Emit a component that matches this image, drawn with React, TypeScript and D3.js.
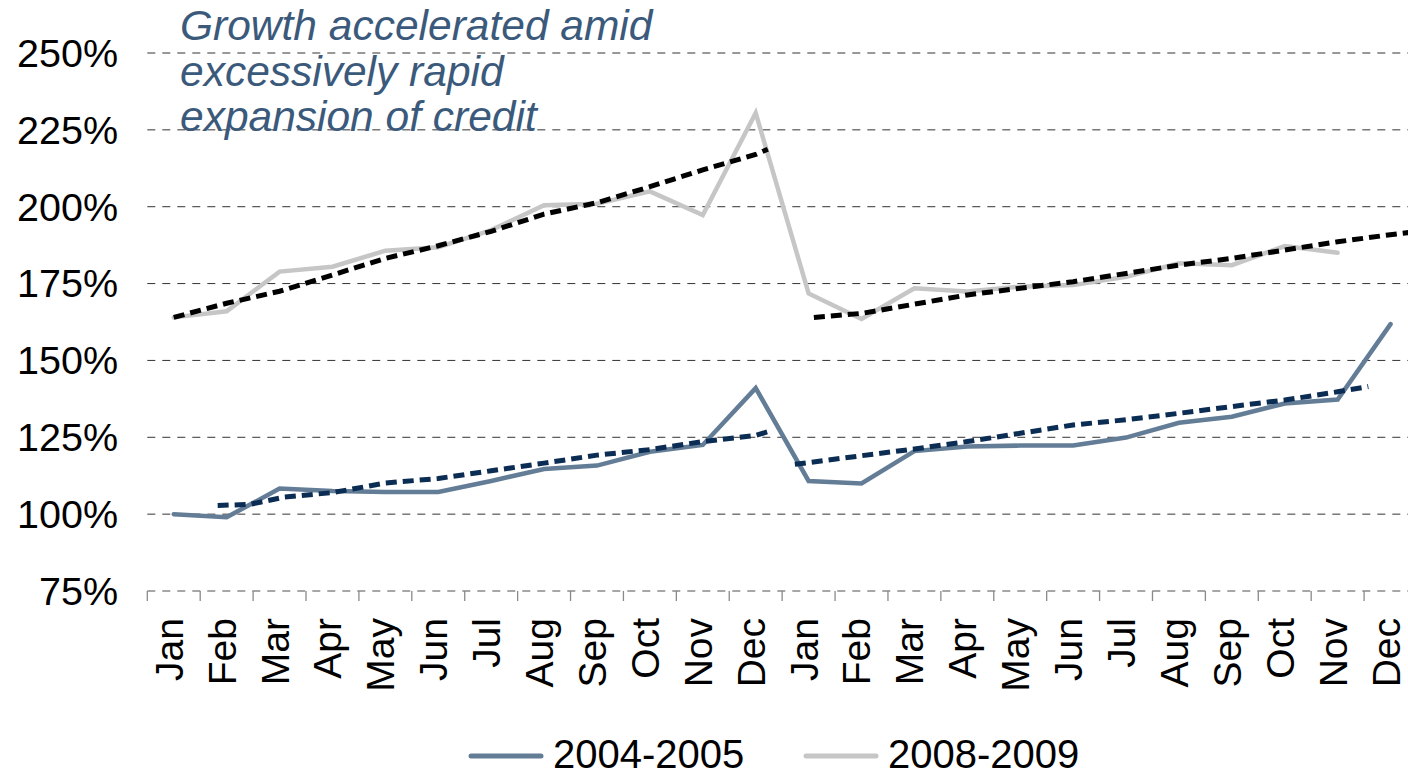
import React from "react";
import * as d3 from "d3";

const months = ["Jan","Feb","Mar","Apr","May","Jun","Jul","Aug","Sep","Oct","Nov","Dec","Jan","Feb","Mar","Apr","May","Jun","Jul","Aug","Sep","Oct","Nov","Dec"];

const series0405: (number | null)[] = [100, 99, 108.3, 107.5, 107.2, 107.2, 110.8, 114.7, 115.8, 120.3, 122.5, 141, 110.8, 110, 120.5, 122, 122.3, 122.3, 124.9, 129.7, 131.7, 136, 137.3, 161.8];
const series0809: (number | null)[] = [164, 166, 178.9, 180.5, 185.7, 186.8, 192.4, 200.5, 201, 205, 197.3, 230.5, 171.8, 163.5, 173.5, 172.4, 174, 174.5, 177.2, 181.6, 181, 187.2, 185, null];

// trend lines: [month position, value]
const trend0405a: [number, number][] = [[0.83,102.8],[1.45,103.2],[2.1,105.6],[3,107],[4,110.1],[5,111.6],[6,114.1],[7,116.6],[8,119.2],[9,121],[10,123.6],[11,125.6],[11.23,126.8]];
const trend0405b: [number, number][] = [[11.74,116.2],[13,119],[14,121.2],[15,123.6],[16,126.3],[17,129],[18,130.7],[19,132.8],[20,135],[21,137.1],[22,139.8],[22.58,141.5]];
const trend0809a: [number, number][] = [[0,164],[1,168.6],[2,172.5],[3,177.8],[4,183.2],[5,187.3],[6,192],[7,197.6],[8,201.3],[9,206.5],[10,212],[11,217],[11.23,218.7]];
const trend0809b: [number, number][] = [[12.1,164],[13,165.3],[14,168.3],[15,171.3],[16,173.5],[17,175.6],[18,178.3],[19,181],[20,183.2],[21,185.9],[22,188.6],[23.18,191.3],[23.4,191.7]];

const yTicks = [75, 100, 125, 150, 175, 200, 225, 250];
const titleLines = ["Growth accelerated amid", "excessively rapid", "expansion of credit"];
const legendItems = [
  { label: "2004-2005", color: "#647d97" },
  { label: "2008-2009", color: "#c6c6c6" },
];

const FONT = "'Liberation Sans', Arial, sans-serif";

export default function App() {
  const W = 1408, H = 776;
  const x = d3.scaleLinear().domain([-0.5, 23.5]).range([147.3, 1417]);
  const y = d3.scaleLinear().domain([75, 250]).range([591, 53]);

  const line = d3
    .line<number | null>()
    .defined((d) => d != null)
    .x((_, i) => x(i))
    .y((d) => y(d as number));
  const tline = d3
    .line<[number, number]>()
    .x((d) => x(d[0]))
    .y((d) => y(d[1]));

  const boundaries = d3.range(0, 25).map((i) => i - 0.5);

  return (
    <svg width={W} height={H} style={{ position: "absolute", left: 0, top: 0, display: "block", background: "#fff" }} fontFamily={FONT}>
      <rect width={W} height={H} fill="#fff" />
      {/* gridlines */}
      {yTicks.map((t) => (
        <line
          key={t}
          x1={x(-0.5)}
          x2={x(23.5)}
          y1={y(t)}
          y2={y(t)}
          stroke={t === 75 ? "#8a8a8a" : "#333"}
          strokeWidth={t === 75 ? 1.6 : 1}
          strokeDasharray="8 7"
        />
      ))}
      {/* x ticks */}
      {boundaries.map((b) => (
        <line key={b} x1={x(b)} x2={x(b)} y1={y(75)} y2={y(75) + 10} stroke="#8a8a8a" strokeWidth={1.3} />
      ))}
      {/* y labels */}
      {yTicks.map((t) => (
        <text key={t} x={118} y={y(t)} dy="0.35em" textAnchor="end" fontSize={39.5} fill="#000">
          {t}%
        </text>
      ))}
      {/* x labels */}
      {months.map((m, i) => (
        <text
          key={i}
          transform={`translate(${x(i)},618) rotate(-90)`}
          dy="0.23em"
          textAnchor="end"
          fontSize={39}
          fill="#000"
        >
          {m}
        </text>
      ))}
      {/* title */}
      <text x={180} y={40} fontSize={42.5} fontStyle="italic" fill="#3b5a7b">
        {titleLines.map((l, i) => (
          <tspan key={i} x={180} y={40 + i * 45.5}>
            {l}
          </tspan>
        ))}
      </text>
      {/* series */}
      <path d={line(series0809) || ""} fill="none" stroke="#c6c6c6" strokeWidth={4.5} strokeLinejoin="miter" strokeLinecap="round" />
      <path d={line(series0405) || ""} fill="none" stroke="#647d97" strokeWidth={4.5} strokeLinejoin="miter" strokeLinecap="round" />
      {/* trends */}
      {[trend0809a, trend0809b].map((t, i) => (
        <path key={"b" + i} d={tline(t) || ""} fill="none" stroke="#000" strokeWidth={5} strokeDasharray="11 6" />
      ))}
      {[trend0405a, trend0405b].map((t, i) => (
        <path key={"a" + i} d={tline(t) || ""} fill="none" stroke="#0b2c53" strokeWidth={5} strokeDasharray="11 6" />
      ))}
      {/* legend */}
      {legendItems.map((it, i) => {
        const x0 = i === 0 ? 469 : 804;
        return (
          <g key={it.label}>
            <line x1={x0 + 2} x2={x0 + 72} y1={756} y2={756} stroke={it.color} strokeWidth={5} strokeLinecap="round" />
            <text x={x0 + 84} y={767.5} fontSize={40} fill="#000">
              {it.label}
            </text>
          </g>
        );
      })}
    </svg>
  );
}
